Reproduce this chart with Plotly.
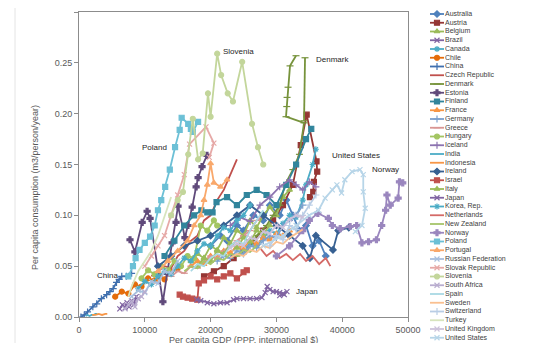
import plotly.graph_objects as go

# ---------------- data (per capita GDP, per capita consumption) ----------------
countries = ["Australia", "Austria", "Belgium", "Brazil", "Canada", "Chile", "China",
             "Czech Republic", "Denmark", "Estonia", "Finland", "France", "Germany",
             "Greece", "Hungary", "Iceland", "India", "Indonesia", "Ireland", "Israel",
             "Italy", "Japan", "Korea, Rep.", "Netherlands", "New Zealand", "Norway",
             "Poland", "Portugal", "Russian Federation", "Slovak Republic", "Slovenia",
             "South Africa", "Spain", "Sweden", "Switzerland", "Turkey",
             "United Kingdom", "United States"]

australia_gdp = [20000, 21500, 22500, 24000, 25000, 26500, 28000, 29000, 30500, 31500, 32500, 33500, 34500, 35500, 36500, 37500]
australia_cons = [0.07, 0.08, 0.075, 0.09, 0.085, 0.1, 0.095, 0.11, 0.1, 0.115, 0.1, 0.085, 0.09, 0.07, 0.075, 0.06]
austria_gdp = [19000, 20500, 22000, 23500, 25000, 26500, 28000, 29500, 31000, 32500, 33700, 34600, 36100, 36200, 35700, 35600, 35100]
austria_cons = [0.04, 0.045, 0.05, 0.058, 0.065, 0.075, 0.085, 0.095, 0.11, 0.13, 0.169, 0.199, 0.153, 0.143, 0.133, 0.123, 0.118]
belgium_gdp = [17000, 18000, 19000, 20000, 21000, 22000, 23000, 24000, 25000, 26000, 27000, 28000, 29000, 30000, 31000, 32000]
belgium_cons = [0.055, 0.062, 0.058, 0.07, 0.066, 0.078, 0.072, 0.085, 0.08, 0.095, 0.088, 0.1, 0.108, 0.1, 0.118, 0.125]
brazil_gdp = [6200, 6600, 7000, 7300, 7600, 8000, 8300, 8700, 9000]
brazil_cons = [0.008, 0.012, 0.009, 0.014, 0.01, 0.016, 0.012, 0.02, 0.018]
canada_gdp = [25000, 26000, 27000, 28000, 29000, 30000, 31000, 32000, 33000, 34000, 34500, 35500, 36000]
canada_cons = [0.065, 0.072, 0.07, 0.078, 0.085, 0.082, 0.092, 0.1, 0.098, 0.115, 0.13, 0.15, 0.165]
chile_gdp = [5500, 6500, 7500, 8500, 9500, 10500, 11500, 12300, 13000, 14000, 15000]
chile_cons = [0.02, 0.025, 0.023, 0.032, 0.03, 0.038, 0.036, 0.04, 0.037, 0.045, 0.048]
china_gdp = [300, 800, 1300, 2100, 2700, 3400, 4200, 4700, 5200, 5700, 6100, 6500, 7200, 8000]
china_cons = [0.0, 0.002, 0.005, 0.01, 0.013, 0.018, 0.022, 0.025, 0.028, 0.034, 0.037, 0.040, 0.040, 0.043]
czech_gdp = [11000, 12000, 13000, 14000, 15000, 16000, 17000, 18000, 19000, 20000, 21000, 22000, 23000, 24000]
czech_cons = [0.04, 0.045, 0.05, 0.048, 0.06, 0.065, 0.075, 0.08, 0.095, 0.1, 0.115, 0.125, 0.14, 0.155]
denmark_gdp = [24000, 25500, 27000, 28500, 29500, 30500, 31300, 32500, 33500, 34200, 31460, 31570, 31620, 31770, 32070, 32980, None, 34350, 34200]
denmark_cons = [0.06, 0.065, 0.08, 0.09, 0.1, 0.11, 0.13, 0.145, 0.16, 0.191, 0.197, 0.207, 0.216, 0.226, 0.247, 0.257, None, 0.255, 0.193]
estonia_gdp = [7750, 8500, 9600, 10350, 10800, 12750, 13400, 14150, 14750, 15050, 16100, 16550, 17200, 17800, 18100, 18700, 19450]
estonia_cons = [0.076, 0.064, 0.093, 0.104, 0.097, 0.015, 0.043, 0.073, 0.093, 0.109, 0.078, 0.09, 0.108, 0.128, 0.137, 0.148, 0.159]
finland_gdp = [13000, 14500, 16000, 17500, 18600, 19500, 20300, 20900, 22500, 24000, 25500, 27000, 28500, 30000, 31500, 33000, 34500, 35300]
finland_cons = [0.06, 0.075, 0.09, 0.1, 0.105, 0.103, 0.103, 0.113, 0.118, 0.11, 0.12, 0.125, 0.12, 0.11, 0.13, 0.15, 0.175, 0.185]
france_gdp = [17000, 18000, 19000, 20000, 21000, 22000, 23000, 24000, 25000, 26000, 27000, 28000, 29000, 30000, 31000, 32000]
france_cons = [0.05, 0.055, 0.052, 0.06, 0.058, 0.065, 0.063, 0.07, 0.068, 0.075, 0.072, 0.078, 0.076, 0.082, 0.08, 0.085]
germany_gdp = [21000, 22000, 23000, 24000, 25000, 26000, 27000, 28000, 29000, 30000, 31000, 32000, 33000, 34000]
germany_cons = [0.055, 0.06, 0.058, 0.065, 0.062, 0.07, 0.068, 0.075, 0.08, 0.078, 0.09, 0.095, 0.1, 0.11]
greece_gdp = [14000, 15000, 16000, 17000, 18000, 19000, 20000, 21000, 22000, 23000, 24000, 25000, 26000, 27000, 28000]
greece_cons = [0.04, 0.045, 0.043, 0.05, 0.048, 0.055, 0.06, 0.058, 0.065, 0.07, 0.075, 0.08, 0.085, 0.095, 0.1]
hungary_gdp = [9500, 10500, 11500, 12500, 13500, 14500, 15500, 16500, 17500, 18000, 18500, 19500, 20500, 21000]
hungary_cons = [0.038, 0.046, 0.042, 0.05, 0.046, 0.055, 0.05, 0.06, 0.058, 0.075, 0.09, 0.085, 0.095, 0.09]
iceland_gdp = [23000, 24500, 26000, 27500, 29000, 30500, 32000, 33000, 34000, 35000, 36000]
iceland_cons = [0.09, 0.098, 0.094, 0.11, 0.118, 0.128, 0.135, 0.13, 0.125, 0.133, 0.128]
india_gdp = [1000, 1300, 1600, 1900, 2200, 2500, 2800]
india_cons = [0.001, 0.002, 0.001, 0.002, 0.002, 0.003, 0.003]
indonesia_gdp = [2000, 2500, 3000, 3500, 4000, 4300]
indonesia_cons = [0.002, 0.002, 0.003, 0.002, 0.003, 0.003]
ireland_gdp = [12000, 14000, 16000, 18000, 20000, 22000, 24000, 26000, 28000, 30000, 32000, 34000, 35100, 36000, 38600, 39400, 41000]
ireland_cons = [0.05, 0.06, 0.07, 0.075, 0.08, 0.09, 0.1, 0.11, 0.1, 0.09, 0.08, 0.07, 0.058, 0.08, 0.066, 0.085, 0.088]
israel_gdp = [15300, 15800, 16500, 17200, 18000, 18200, 19000, 20000, 21000, 22000, 23000, 24000, 25000, 25500]
israel_cons = [0.022, 0.02, 0.019, 0.018, 0.017, 0.033, 0.036, 0.04, 0.037, 0.04, 0.043, 0.038, 0.044, 0.046]
italy_gdp = [18000, 19000, 20000, 21000, 22000, 23000, 24000, 25000, 26000, 27000, 28000, 29000]
italy_cons = [0.05, 0.058, 0.055, 0.065, 0.062, 0.072, 0.068, 0.078, 0.074, 0.085, 0.082, 0.09]
japan_gdp = [17900, 18500, 19500, 20500, 21500, 22500, 23500, 24000, 25000, 26000, 27000, 27800, 28300, 28600, 29000, 29500, 30000, 30500, 31000, 31600, 31200, 30500]
japan_cons = [0.017, 0.016, 0.014, 0.013, 0.014, 0.014, 0.017, 0.018, 0.018, 0.018, 0.018, 0.019, 0.024, 0.03, 0.027, 0.025, 0.025, 0.024, 0.023, 0.025, 0.022, 0.021]
korea_gdp = [9000, 10000, 11000, 12000, 13000, 14000, 15000, 16000, 17000, 18000, 19000, 20000, 21000, 22000, 23000, 24000, 25000, 26000]
korea_cons = [0.028, 0.035, 0.032, 0.04, 0.045, 0.042, 0.05, 0.058, 0.055, 0.065, 0.072, 0.07, 0.08, 0.088, 0.085, 0.095, 0.1, 0.11]
netherlands_gdp = [27500, 28500, 29500, 30500, 31500, 32500, 33600, 34500, 35500, 36500, 37500, 38200]
netherlands_cons = [0.068, 0.06, 0.065, 0.058, 0.062, 0.056, 0.062, 0.055, 0.06, 0.052, 0.058, 0.05]
newzealand_gdp = [16000, 17000, 18000, 19000, 20000, 21000, 22000, 23000, 24000, 25000, 26000, 27000]
newzealand_cons = [0.045, 0.05, 0.048, 0.055, 0.052, 0.058, 0.056, 0.062, 0.06, 0.066, 0.064, 0.07]
norway_gdp = [30000, 32000, 34000, 35000, 36300, 37900, 38500, 39700, 41200, 42200, 43000, 44000, 45200, 46000, 46600, 46800, 47300, 48500, 48700, 49200]
norway_cons = [0.06, 0.07, 0.085, 0.095, 0.102, 0.097, 0.09, 0.087, 0.089, 0.09, 0.073, 0.074, 0.076, 0.09, 0.105, 0.12, 0.11, 0.117, 0.133, 0.132]
poland_gdp = [7500, 8200, 8600, 9200, 10000, 10800, 11500, 12000, 12500, 13100, 13800, 14600, 15300, 15600, 16600, 17000, 17300, 18100]
poland_cons = [0.04, 0.05, 0.058, 0.066, 0.073, 0.079, 0.09, 0.105, 0.115, 0.128, 0.145, 0.167, 0.184, 0.196, 0.19, 0.185, 0.182, 0.192]
portugal_gdp = [12000, 13500, 15000, 16500, 17500, 18500, 19000, 19500, 20000, 20500, 21500, 22500]
portugal_cons = [0.045, 0.055, 0.065, 0.075, 0.09, 0.1, 0.115, 0.13, 0.151, 0.132, 0.128, 0.135]
russia_gdp = [8000, 9000, 10000, 11000, 12000, 13000, 14000, 15000]
russia_cons = [0.02, 0.026, 0.024, 0.035, 0.033, 0.045, 0.043, 0.055]
slovak_gdp = [10000, 11000, 12000, 13000, 14000, 15000, 16000, 16800, 19300, 20500, 19800]
slovak_cons = [0.05, 0.06, 0.07, 0.08, 0.1, 0.12, 0.14, 0.17, 0.187, 0.171, 0.157]
slovenia_gdp = [14000, 15000, 15800, 16600, 17300, 18100, 18800, 19600, 20000, 21000, 21600, 22600, 23400, 24800, 26300, 27200, 28000]
slovenia_cons = [0.1, 0.115, 0.123, 0.16, 0.195, 0.155, 0.161, 0.22, 0.197, 0.259, 0.238, 0.22, 0.212, 0.251, 0.19, 0.167, 0.15]
southafrica_gdp = [7000, 7500, 8000, 8500, 9000, 9500, 10000]
southafrica_cons = [0.008, 0.012, 0.015, 0.01, 0.018, 0.02, 0.025]
spain_gdp = [17000, 18000, 19000, 20000, 21000, 22000, 23000, 24000, 25000, 26000, 27000, 28000]
spain_cons = [0.045, 0.052, 0.05, 0.058, 0.062, 0.06, 0.07, 0.075, 0.072, 0.085, 0.095, 0.105]
sweden_gdp = [23000, 24000, 25000, 26000, 27000, 28000, 29000, 30000, 31000, 32000, 33000, 34000]
sweden_cons = [0.058, 0.062, 0.06, 0.066, 0.064, 0.07, 0.068, 0.074, 0.072, 0.078, 0.082, 0.086]
switzerland_gdp = [29000, 30000, 31000, 32000, 33000, 34000, 35000, 36000]
switzerland_cons = [0.07, 0.08, 0.076, 0.09, 0.086, 0.1, 0.11, 0.12]
turkey_gdp = [7500, 8000, 9000, 10000, 11000, 12000, 13000, 14000]
turkey_cons = [0.02, 0.03, 0.045, 0.055, 0.065, 0.08, 0.1, 0.118]
uk_gdp = [23000, 24000, 25000, 26000, 27000, 28000, 29000, 30000, 31000, 32000, 33000, 34000]
uk_cons = [0.068, 0.072, 0.07, 0.078, 0.076, 0.084, 0.082, 0.09, 0.088, 0.096, 0.1, 0.098]
us_gdp = [28000, 31000, 33000, 35000, 36400, 37400, 38500, 39200, 39900, 40400, 41500, 42700, 43200, 43200, 43500, 43000, 42000]
us_cons = [0.07, 0.08, 0.09, 0.1, 0.105, 0.117, 0.125, 0.13, 0.122, 0.135, 0.143, 0.145, 0.14, 0.123, 0.107, 0.09, 0.084]

x_ticks = [0, 10000, 20000, 30000, 40000, 50000]
y_ticks = [0.00, 0.05, 0.10, 0.15, 0.20, 0.25, 0.30]

callouts = ["Slovenia", "Denmark", "Poland", "United States", "Norway", "China", "Japan"]

# ---------------- styles ----------------
gdp_series = [australia_gdp, austria_gdp, belgium_gdp, brazil_gdp, canada_gdp, chile_gdp, china_gdp,
              czech_gdp, denmark_gdp, estonia_gdp, finland_gdp, france_gdp, germany_gdp, greece_gdp,
              hungary_gdp, iceland_gdp, india_gdp, indonesia_gdp, ireland_gdp, israel_gdp, italy_gdp,
              japan_gdp, korea_gdp, netherlands_gdp, newzealand_gdp, norway_gdp, poland_gdp,
              portugal_gdp, russia_gdp, slovak_gdp, slovenia_gdp, southafrica_gdp, spain_gdp,
              sweden_gdp, switzerland_gdp, turkey_gdp, uk_gdp, us_gdp]
cons_series = [australia_cons, austria_cons, belgium_cons, brazil_cons, canada_cons, chile_cons, china_cons,
               czech_cons, denmark_cons, estonia_cons, finland_cons, france_cons, germany_cons, greece_cons,
               hungary_cons, iceland_cons, india_cons, indonesia_cons, ireland_cons, israel_cons, italy_cons,
               japan_cons, korea_cons, netherlands_cons, newzealand_cons, norway_cons, poland_cons,
               portugal_cons, russia_cons, slovak_cons, slovenia_cons, southafrica_cons, spain_cons,
               sweden_cons, switzerland_cons, turkey_cons, uk_cons, us_cons]

colors = ["#4F81BD", "#953735", "#9BBB59", "#8064A2", "#4BACC6", "#E46C0A", "#3F6FAE",
          "#C0504D", "#77933C", "#604A7B", "#31859C", "#F79646", "#7BA0CD", "#D99694",
          "#A3C562", "#8C73B0", "#4BACC6", "#F79646", "#376092", "#C0504D", "#9BBB59",
          "#8064A2", "#4BACC6", "#D46A67", "#A5C46A", "#9A86BE", "#6CC0D6",
          "#F9A86B", "#A7BFDE", "#E6A9A7", "#C3D69B", "#B9ADCF", "#A9D8E4",
          "#FAC090", "#B9CDE5", "#D7E4BD", "#CCC1DA", "#B7D5E8"]
symbols = ["diamond", "square", "triangle-up", "x-thin-open", "asterisk-open", "circle", "cross-thin-open",
           None, "line-ew-open", "cross", "square", "triangle-up", "cross-thin-open", "line-ew-open",
           "circle", "cross-thin-open", None, None, "diamond", "square", "triangle-up",
           "x-thin-open", "asterisk-open", None, None, "cross", "square",
           "triangle-up", "x-thin-open", "x-thin-open", "circle", "x-thin-open", None,
           None, "cross-thin-open", None, "x-thin-open", "x-thin-open"]

FONT = "Liberation Sans, Arial, sans-serif"
OFF = 8                      # page body margin of the html page
W, H = 536 - OFF, 343 - OFF  # figure size so that it ends at the window edge


def fx(px):  # page pixel -> figure pixel
    return px - OFF


L = fx(79)
pw = W - L
plot_right, plot_top, plot_bottom = fx(408), fx(12), fx(317)

fig = go.Figure()

for name, gx, gy, col, sym in zip(countries, gdp_series, cons_series, colors, symbols):
    mode = "lines+markers" if sym else "lines"
    marker = dict(size=5, color=col, symbol=sym or "circle",
                  line=dict(color=col, width=1.2))
    fig.add_trace(go.Scatter(x=gx, y=gy, mode=mode, name=name, showlegend=False,
                             line=dict(color=col, width=1.8), marker=marker,
                             connectgaps=False, hoverinfo="name+x+y",
                             xaxis="x", yaxis="y"))

# manual legend drawn on a secondary axis pair (one row per country index)
rows = list(range(len(countries)))
for i, (name, col, sym) in enumerate(zip(countries, colors, symbols)):
    fig.add_trace(go.Scatter(x=[0, 14], y=[i, i], mode="lines", showlegend=False,
                             line=dict(color=col, width=1.8), hoverinfo="skip",
                             xaxis="x2", yaxis="y2"))
    if sym:
        fig.add_trace(go.Scatter(x=[7], y=[i], mode="markers", showlegend=False,
                                 marker=dict(size=5, color=col, symbol=sym,
                                             line=dict(color=col, width=1.2)),
                                 hoverinfo="skip", xaxis="x2", yaxis="y2"))
fig.add_trace(go.Scatter(x=[15] * len(countries), y=rows, mode="text", text=countries,
                         textposition="middle right", cliponaxis=False, showlegend=False,
                         textfont=dict(family=FONT, size=7, color="#404040"),
                         hoverinfo="skip", xaxis="x2", yaxis="y2"))

axis_common = dict(showgrid=False, zeroline=False, showline=True, mirror=True,
                   linecolor="#8c8c8c", linewidth=1, ticks="outside", ticklen=4,
                   tickcolor="#8c8c8c", automargin=False,
                   tickfont=dict(family=FONT, size=9, color="#595959"))

row_step = 8.75
first_row = fx(14)
fig.update_layout(
    width=W, height=H,
    margin=dict(l=L, r=0, t=0, b=0),
    paper_bgcolor="white", plot_bgcolor="white",
    showlegend=False,
    xaxis=dict(domain=[0, (plot_right - L) / pw], range=[0, 50000],
               tickvals=x_ticks, ticktext=[str(v) for v in x_ticks], **axis_common),
    yaxis=dict(domain=[(H - plot_bottom) / H, (H - plot_top) / H], range=[0, 0.30],
               tickvals=y_ticks, ticktext=[f"{v:.2f}" for v in y_ticks], **axis_common),
    xaxis2=dict(domain=[(fx(430) - L) / pw, (fx(530) - L) / pw], range=[0, 100], visible=False,
                anchor="y2", fixedrange=True),
    yaxis2=dict(domain=[0, 1], range=[(H - first_row) / row_step, -first_row / row_step],
                visible=False, anchor="x2", fixedrange=True),
)

# callout labels placed at data positions
callout_pos = {"Slovenia": (24200, 0.2616, "center"), "Denmark": (35700, 0.2528, "left"),
               "Poland": (11400, 0.1672, "center"), "United States": (42100, 0.1593, "center"),
               "Norway": (46650, 0.1446, "center"), "China": (4400, 0.0413, "center"),
               "Japan": (32700, 0.0246, "left")}
for c in callouts:
    x, y, anc = callout_pos[c]
    fig.add_annotation(x=x, y=y, xref="x", yref="y", text=c, showarrow=False,
                       xanchor=anc, yanchor="middle",
                       font=dict(family=FONT, size=8, color="#262626"))

# axis titles
fig.add_annotation(x=(fx(35) - L) / pw, y=(H - fx(188)) / H, xref="paper", yref="paper",
                   text="Per capita consumption (m3/person/year)", textangle=-90,
                   showarrow=False, xanchor="center", yanchor="middle",
                   font=dict(family=FONT, size=9, color="#595959"))
fig.add_annotation(x=(fx(243) - L) / pw, y=(H - fx(340)) / H, xref="paper", yref="paper",
                   text="Per capita GDP (PPP, international $)", showarrow=False,
                   xanchor="center", yanchor="middle",
                   font=dict(family=FONT, size=9, color="#595959"))

# slide frame edge on the left
fig.add_shape(type="line", xref="paper", yref="paper", x0=(fx(15) - L) / pw, x1=(fx(15) - L) / pw,
              y0=0, y1=1, line=dict(color="#e4e4e4", width=1))

fig.write_html("out.html")
